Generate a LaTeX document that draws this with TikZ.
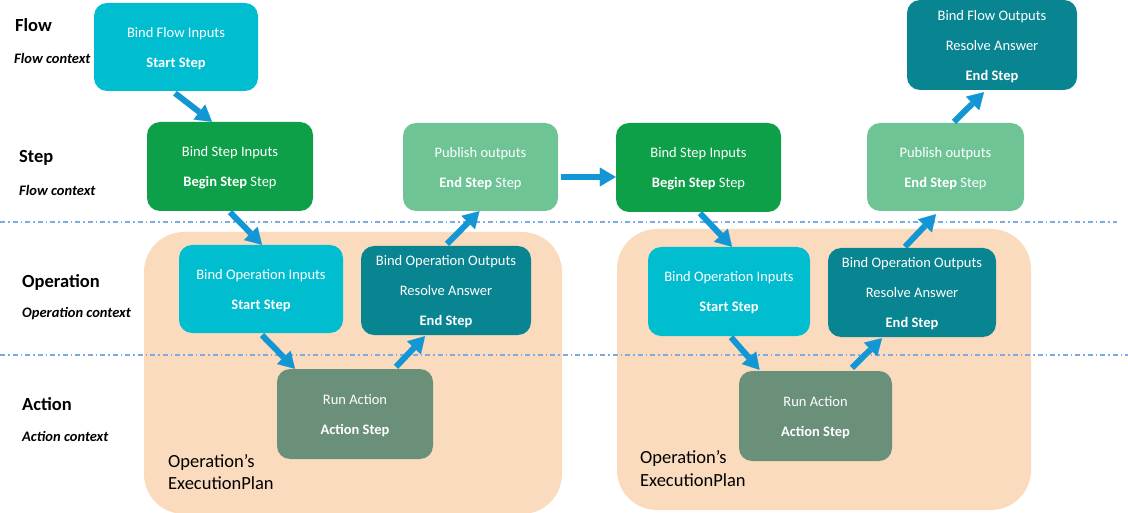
\documentclass[tikz,border=0pt]{standalone}
\usepackage{fontspec}
\setmainfont{Carlito}
\usetikzlibrary{arrows.meta}
\definecolor{cyanbox}{RGB}{0,189,208}
\definecolor{darkgreen}{RGB}{14,160,72}
\definecolor{lightgreen}{RGB}{110,196,148}
\definecolor{tealbox}{RGB}{9,133,145}
\definecolor{actionbox}{RGB}{106,144,122}
\definecolor{peach}{RGB}{251,219,190}
\definecolor{arrowblue}{RGB}{18,150,212}
\definecolor{seplinecol}{RGB}{125,172,226}
\tikzset{
  box/.style={rounded corners=13pt, inner sep=0pt, text=white, align=center,
    font=\fontsize{14.5}{30}\selectfont, text depth=-1pt},
  container/.style={fill=peach, rounded corners=40pt, inner sep=0pt},
  arr/.style={draw=arrowblue, line width=6pt,
    -{Triangle[width=19pt,length=16pt,line width=0.1pt]}},
  sepline/.style={draw=seplinecol, line width=1.3pt,
    dash pattern=on 5pt off 3pt on 1.5pt off 3pt},
  lvl/.style={anchor=west, inner sep=0pt, font=\fontsize{18.5}{22}\selectfont\bfseries},
  ctx/.style={anchor=west, inner sep=0pt, font=\fontsize{14.5}{18}\selectfont\bfseries\itshape},
  plan/.style={anchor=west, inner sep=0pt, align=left, font=\fontsize{18.5}{22.5}\selectfont},
}
\begin{document}
\begin{tikzpicture}[x=1pt,y=-1pt]
\useasboundingbox (0,0) rectangle (1128,513);
% containers
\node[container, minimum width=418pt, minimum height=282pt] (c1) at (353,373) {};
\node[container, minimum width=414pt, minimum height=281pt] (c2) at (824,369.5) {};
% separator lines
\draw[sepline] (0,222) -- (1117,222);
\draw[sepline] (0,355) -- (1128,355);
% level labels
\node[lvl] (lflow) at (15,25) {Flow};
\node[ctx] (cflow) at (14,58) {Flow context};
\node[lvl] (lstep) at (19,158) {Step};
\node[ctx] (cstep) at (19,190) {Flow context};
\node[lvl] (lop) at (22,282) {Operation};
\node[ctx] (cop) at (22,314) {Operation context};
\node[lvl] (lact) at (22,404) {Action};
\node[ctx] (cact) at (22,436) {Action context};
% boxes
\node[box, fill=cyanbox, minimum width=164pt, minimum height=88pt] (fin) at (176,47)
  {Bind Flow Inputs\\\textbf{Start Step}};
\node[box, fill=darkgreen, minimum width=166pt, minimum height=89pt] (s1) at (230,166.5)
  {Bind Step Inputs\\\textbf{Begin Step} Step};
\node[box, fill=lightgreen, minimum width=155pt, minimum height=88pt] (p1) at (480.5,167)
  {Publish outputs\\\textbf{End Step} Step};
\node[box, fill=darkgreen, minimum width=165pt, minimum height=89pt] (s2) at (698.5,167.5)
  {Bind Step Inputs\\\textbf{Begin Step} Step};
\node[box, fill=lightgreen, minimum width=157pt, minimum height=88pt] (p2) at (945.5,167)
  {Publish outputs\\\textbf{End Step} Step};
\node[box, fill=tealbox, minimum width=170pt, minimum height=90pt] (fout) at (992,45)
  {Bind Flow Outputs\\Resolve Answer\\\textbf{End Step}};
\node[box, fill=cyanbox, minimum width=164pt, minimum height=88pt] (oi1) at (261,289)
  {Bind Operation Inputs\\\textbf{Start Step}};
\node[box, fill=tealbox, minimum width=170pt, minimum height=89pt] (oo1) at (446,290.5)
  {Bind Operation Outputs\\Resolve Answer\\\textbf{End Step}};
\node[box, fill=actionbox, minimum width=156pt, minimum height=90pt] (ra1) at (355,414)
  {Run Action\\\textbf{Action Step}};
\node[box, fill=cyanbox, minimum width=162pt, minimum height=89pt] (oi2) at (729,291.5)
  {Bind Operation Inputs\\\textbf{Start Step}};
\node[box, fill=tealbox, minimum width=168pt, minimum height=89pt] (oo2) at (912,292.5)
  {Bind Operation Outputs\\Resolve Answer\\\textbf{End Step}};
\node[box, fill=actionbox, minimum width=153pt, minimum height=90pt] (ra2) at (815.5,416)
  {Run Action\\\textbf{Action Step}};
% plan labels
\node[plan] (plan1) at (168,472) {Operation’s\\ExecutionPlan};
\node[plan] (plan2) at (640,468.5) {Operation’s\\ExecutionPlan};
% arrows
\draw[arr] ([xshift=-1pt,yshift=-2pt]fin.south) -- ([xshift=-18pt]s1.north);
\draw[arr] ([yshift=-1pt]s1.south) -- ([xshift=1pt]oi1.north);
\draw[arr] ([xshift=1pt,yshift=-2pt]oi1.south) -- ([xshift=-60pt]ra1.north);
\draw[arr] ([xshift=41pt,yshift=2pt]ra1.north) -- ([xshift=-21pt,yshift=-1pt]oo1.south);
\draw[arr] ([xshift=1pt,yshift=2pt]oo1.north) -- ([xshift=-1pt]p1.south);
\draw[arr] ([xshift=3pt,yshift=-10pt]p1.east) -- ([yshift=-9.5pt]s2.west);
\draw[arr] ([xshift=1.5pt,yshift=-1pt]s2.south) -- ([xshift=3pt]oi2.north);
\draw[arr] ([xshift=2pt,yshift=-1pt]oi2.south) -- ([xshift=-56pt,yshift=1pt]ra2.north);
\draw[arr] ([xshift=36.5pt,yshift=3pt]ra2.north) -- ([xshift=-30pt,yshift=-1pt]oo2.south);
\draw[arr] ([xshift=-7pt,yshift=1pt]oo2.north) -- ([xshift=-9.5pt,yshift=-3pt]p2.south);
\draw[arr] ([xshift=8.5pt,yshift=1pt]p2.north) -- ([xshift=-8pt,yshift=-2pt]fout.south);
\end{tikzpicture}
\end{document}
